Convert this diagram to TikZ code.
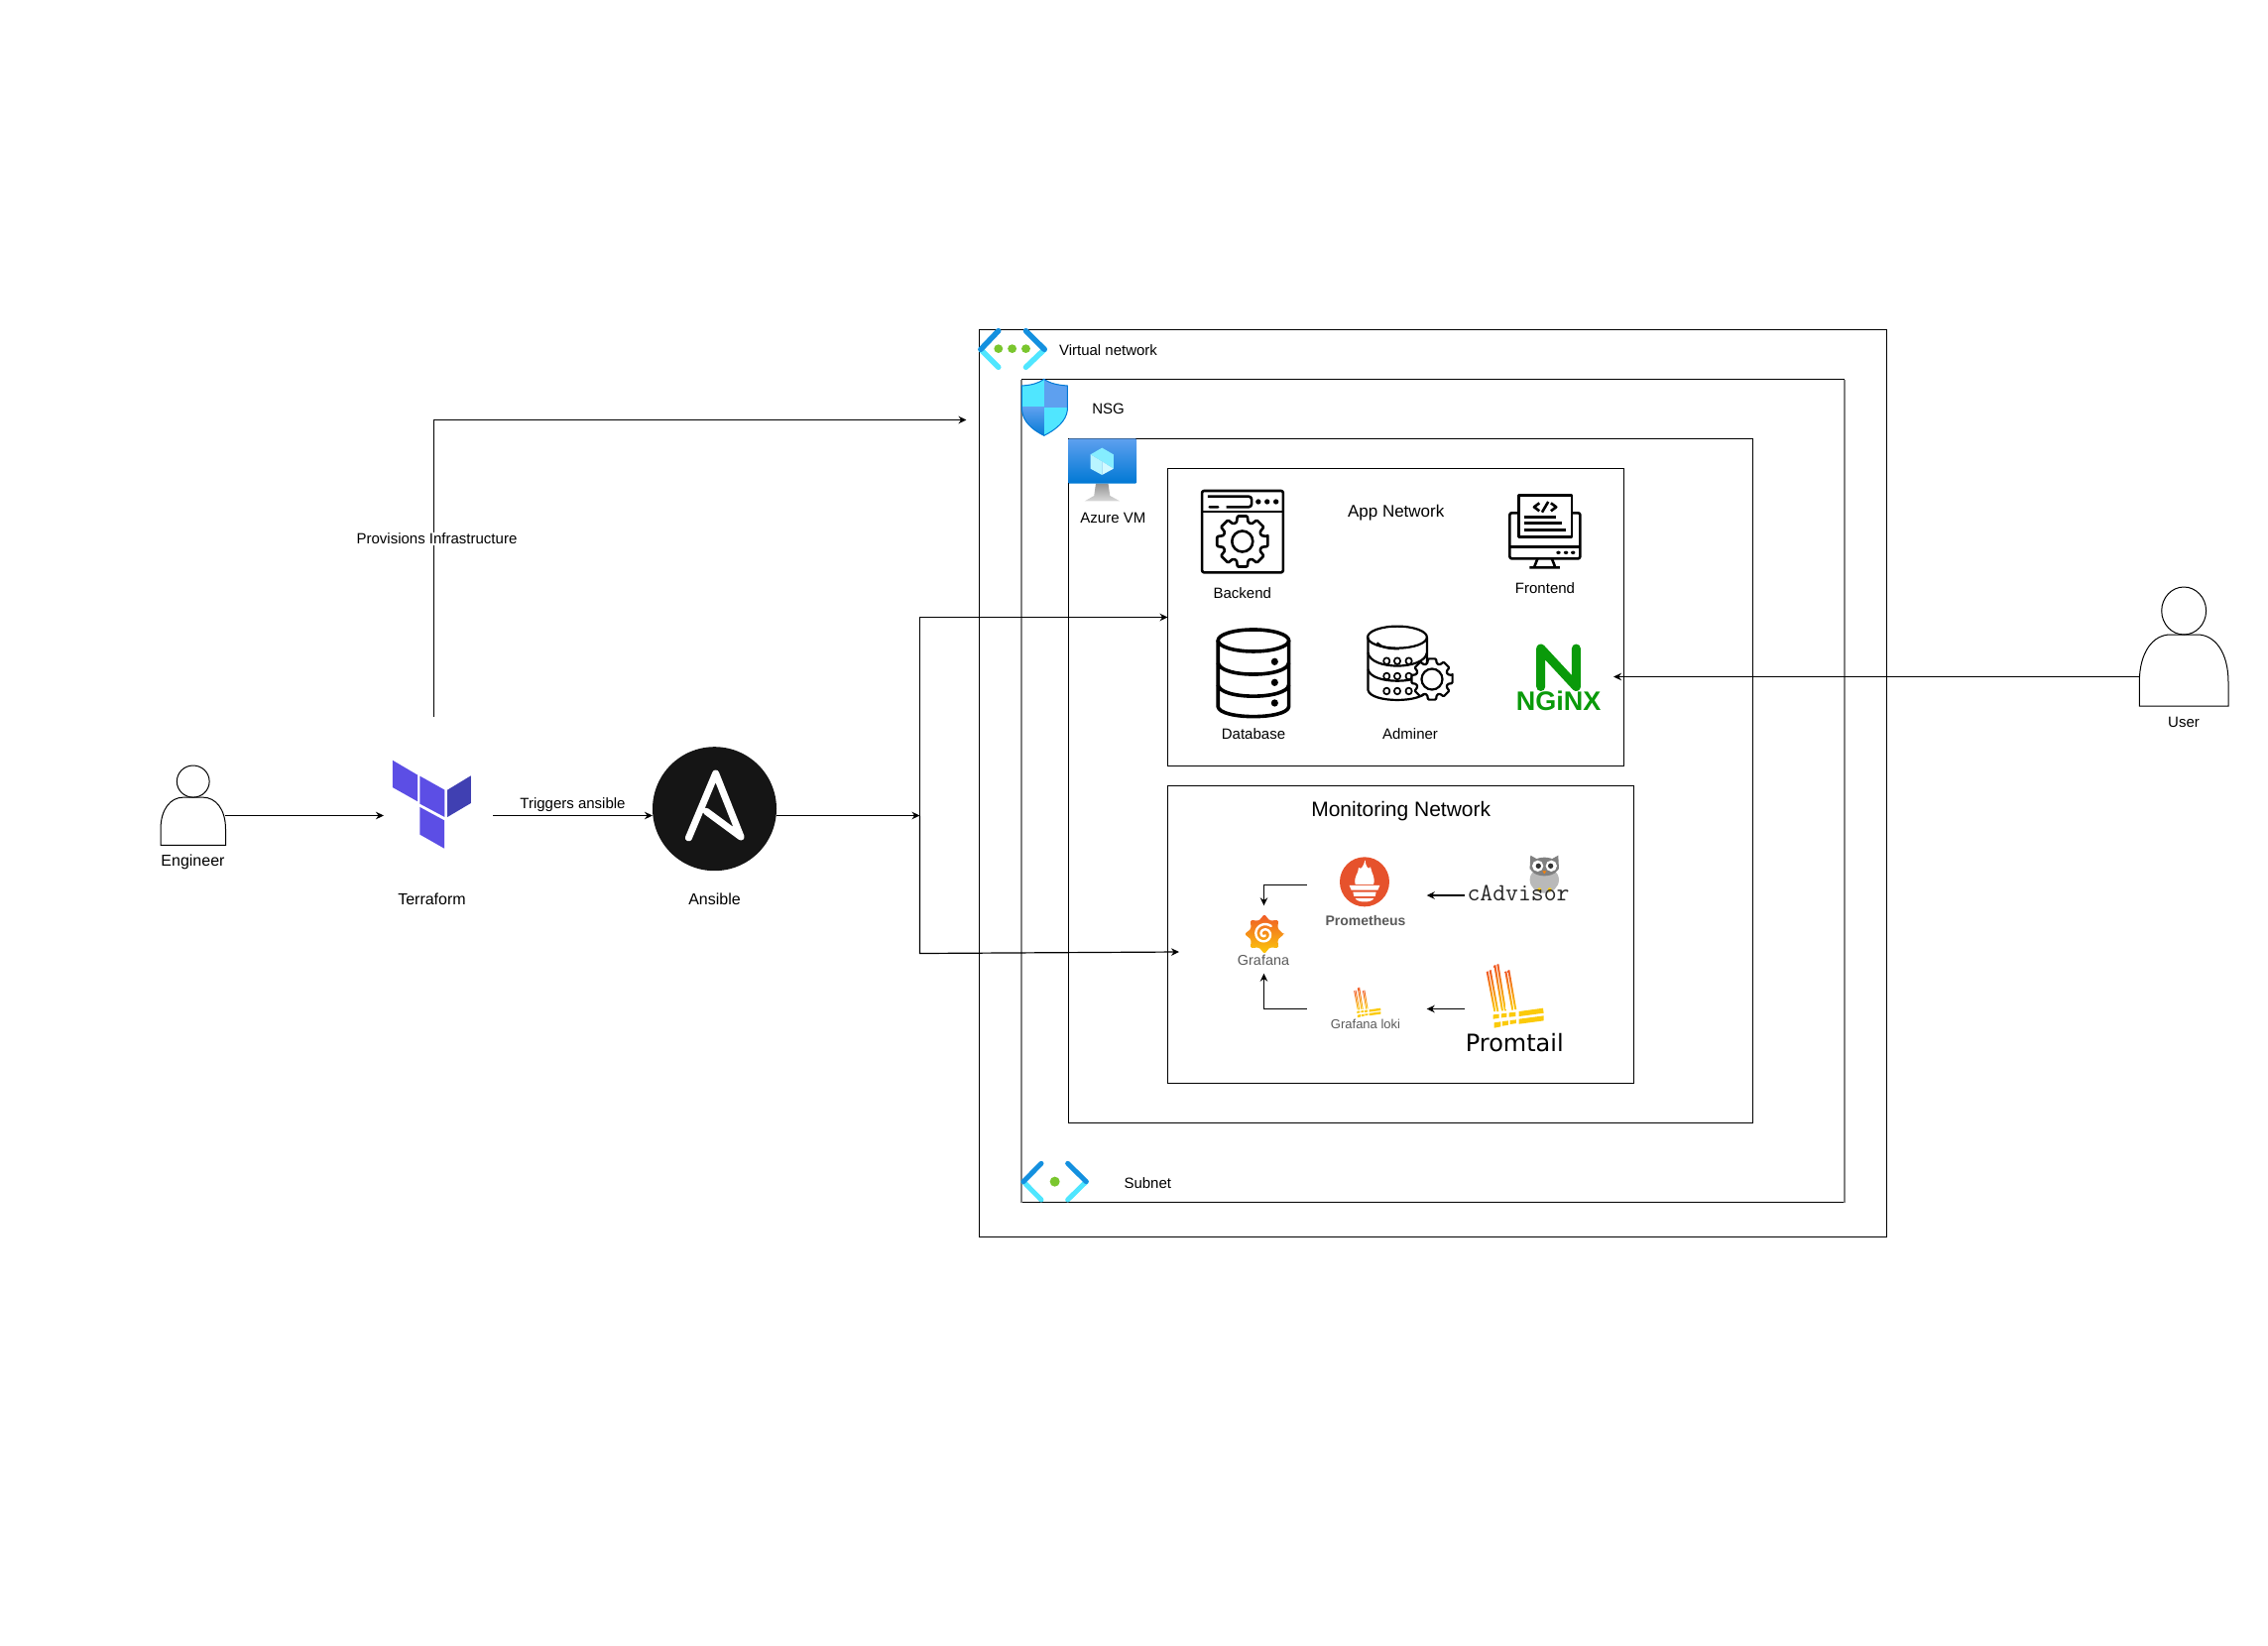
\documentclass[tikz,border=0pt]{standalone}
\usepackage{fontspec}
\setmainfont{Liberation Sans}
\newfontfamily\promfont{DejaVu Sans}
\usetikzlibrary{calc}
\usetikzlibrary{arrows.meta}
\definecolor{azdark}{HTML}{1490DF}
\definecolor{azcyan}{HTML}{50E6FF}
\definecolor{azblue}{HTML}{5EA0EF}
\definecolor{azdeep}{HTML}{0078D4}
\definecolor{azgreen}{HTML}{7AC62E}
\definecolor{tfpurple}{HTML}{5C4EE5}
\definecolor{tfdark}{HTML}{4040B2}
\definecolor{ansibleblack}{HTML}{151515}
\definecolor{nginxgreen}{HTML}{0A9A0A}
\definecolor{promorange}{HTML}{E6522C}
\definecolor{gforange}{HTML}{F05A28}
\definecolor{gfyellow}{HTML}{FBCA0A}
\definecolor{logogray}{HTML}{5A5A5A}
\tikzset{
  lbl/.style={font=\fontsize{15}{18}\selectfont,inner sep=0pt},
  biglbl/.style={font=\fontsize{16}{19}\selectfont,inner sep=0pt},
  netbox/.style={draw,line width=1.3pt,inner sep=0pt,outer sep=0pt},
  iconbox/.style={inner sep=0pt,outer sep=0pt},
  arr/.style={line width=1.2pt,-{Stealth[length=8pt,width=7.5pt]}},
  icon/.style={line width=2.6pt,line join=round},
  zoomone/.style={shift={(980,320)},x=0.4464pt,y=-0.3333pt},
  zoomtwo/.style={shift={(1170,780)},x=0.3333pt,y=-0.3333pt},
  zoomthree/.style={shift={(140,740)},x=0.4464pt,y=-0.3333pt}
}
% gear: centre x, centre y, outer r, inner r, path style
\newcommand{\gearicon}[5]{
  \coordinate (gc) at (#1,#2);
  \path[#5] ([shift={(-11:#3)}]gc) \foreach \a in {0,45,...,315} {
    -- ([shift={(\a-11:#3)}]gc) -- ([shift={(\a+11:#3)}]gc)
    -- ([shift={(\a+17:#4)}]gc) -- ([shift={(\a+28:#4)}]gc)} -- cycle;
}
% person: left, top, width, height
\newcommand{\personicon}[4]{
  \begin{scope}[shift={(#1,#2)},x=#3pt,y=-#4pt,line width=1pt]
    \draw (.5,.2) ellipse [x radius=.25,y radius=.2];
    \draw (0,1) -- (1,1) -- (1,.8) .. controls (1,.55) and (.85,.4) .. (.65,.4)
      -- (.35,.4) .. controls (.15,.4) and (0,.55) .. (0,.8) -- cycle;
  \end{scope}
}
% loki logo, local units are the big one's pixels
\newcommand{\lokilogo}{
  \foreach \xt/\yt/\xb/\yb in {1/22/24/142,10/18/33/142,24/3/47/140,33/0/56/140,57/22/78/138,66/18/87/136}
    \shade[top color=gforange,bottom color=gfyellow] (\xt,\yt) -- ($(\xt,\yt)+(6,-2)$) -- ($(\xb,\yb)+(6,0)$) -- (\xb,\yb) -- cycle;
  \fill[gfyellow] (100,142) -- (173,132) -- (175,147) -- (100,157) -- cycle;
  \fill[gfyellow] (100,165) -- (175,155) -- (175,170) -- (100,180) -- cycle;
  \fill[gfyellow] (22,152) -- (40,150) -- (40,162) -- (22,165) -- cycle;
  \fill[gfyellow] (47,149) -- (63,147) -- (63,159) -- (47,161) -- cycle;
  \fill[gfyellow] (70,146) -- (90,144) -- (90,157) -- (70,159) -- cycle;
  \fill[gfyellow] (25,176) -- (45,173) -- (45,188) -- (25,192) -- cycle;
  \fill[gfyellow] (50,172) -- (68,170) -- (68,183) -- (50,186) -- cycle;
  \fill[gfyellow] (73,169) -- (92,167) -- (92,178) -- (73,181) -- cycle;
}
\begin{document}
\begin{tikzpicture}[x=1pt,y=-1pt]
\useasboundingbox (0,0) rectangle (2287,1660);

% Network boxes
\node[netbox,minimum width=915pt,minimum height=915pt] (vnet) at (1445,790) {};
\node[iconbox,minimum width=830pt,minimum height=830pt] (subnet) at (1445,797.5) {};
\draw[line width=1.3pt] (subnet.north west) -- (subnet.north east);
\draw[line width=1.3pt] (subnet.south west) -- (subnet.south east);
\draw[line width=1.6pt,gray] (subnet.north west) -- (subnet.south west);
\draw[line width=1.6pt,gray] (subnet.north east) -- (subnet.south east);
\node[netbox,minimum width=690pt,minimum height=690pt] (vm) at (1422.5,787.5) {};
\node[netbox,minimum width=460pt,minimum height=300pt] (appnet) at (1407.5,622.5) {};
\node[netbox,minimum width=470pt,minimum height=300pt] (monitoring) at (1412.5,942.5) {};

% Titles
\node[lbl] (vnetlabel) at (1117.5,353.5) {Virtual network};
\node[lbl] (nsglabel) at (1117.5,412.5) {NSG};
\node[lbl] (vmlabel) at (1122.4,522.5) {Azure VM};
\node[lbl] (subnetlabel) at (1157.3,1193) {Subnet};
\node[lbl,font=\fontsize{17}{20}\selectfont] (applabel) at (1407.7,517.5) {App Network};
\node[lbl,font=\fontsize{21}{25}\selectfont] (monitorlabel) at (1412.7,818) {Monitoring Network};

% Azure icons
\begin{scope}[zoomone,line cap=round]
  \foreach \xa/\xb in {60/20,122/164} {
    \draw[line width=5.5pt,azcyan] (\xb,97) -- (\xa,151);
    \draw[line width=5.5pt,azdark] (\xa,41) -- (\xb,97);
  }
  \foreach \xd in {60,91,122}
    \fill[azgreen] (\xd,95) ellipse [x radius=10,y radius=13];
  % shield
  \begin{scope}
    \clip (113,207) .. controls (135,205) and (150,200) .. (163,187) .. controls (176,200) and (195,205) .. (216,207)
      -- (216,280) .. controls (213,315) and (190,340) .. (163,358) .. controls (136,340) and (115,315) .. (113,280) -- cycle;
    \fill[azcyan] (105,180) rectangle (163,272);
    \fill[azblue] (163,180) rectangle (225,272);
    \shade[top color=azblue,bottom color=azdeep] (105,272) rectangle (163,365);
    \fill[azcyan] (163,272) rectangle (225,365);
  \end{scope}
  \draw[line width=1pt,azdeep] (113,207) .. controls (135,205) and (150,200) .. (163,187) .. controls (176,200) and (195,205) .. (216,207)
    -- (216,280) .. controls (213,315) and (190,340) .. (163,358) .. controls (136,340) and (115,315) .. (113,280) -- cycle;
  % vm
  \shade[top color=gray!85,bottom color=gray!30] (280,503) -- (308,503) -- (312,540) -- (334,556) -- (255,556) -- (276,540) -- cycle;
  \shade[top color=azblue,bottom color=azdeep,rounded corners=1pt] (218,367) rectangle (372,503);
  \fill[azcyan!70] (294,395) -- (320,415) -- (320,458) -- (294,436) -- (268,415) -- cycle;
  \fill[azcyan!40] (268,415) -- (294,436) -- (294,477) -- (268,458) -- cycle;
  \fill[azcyan!25] (320,458) -- (294,436) -- (294,477) -- cycle;
\end{scope}

% App icons
\begin{scope}[zoomone,icon]
  % backend
  \draw[rounded corners=2pt] (520,525) rectangle (703,772);
  \draw (520,588) -- (703,588);
  \draw[rounded corners=3pt] (533,542) -- (632,542) -- (632,574) -- (575,574) (560,574) -- (533,574) -- cycle;
  \foreach \xd in {647,667,687}
    \fill (\xd,558) ellipse [x radius=6,y radius=8];
  % frontend
  \draw[rounded corners=2pt] (1235,592) -- (1215,592) -- (1215,730) -- (1374,730) -- (1374,592) -- (1355,592);
  \draw (1215,695) -- (1374,695);
  \draw (1235,538) rectangle (1355,665);
  \foreach \xd in {1325,1342,1358}
    \fill (\xd,712) ellipse [x radius=5,y radius=5];
  \draw (1278,730) -- (1270,757) (1310,730) -- (1318,757) (1260,757) -- (1328,757);
  \draw (1282,562) -- (1270,574) -- (1282,586) (1302,558) -- (1288,590) (1308,562) -- (1320,574) -- (1308,586);
  \draw (1247,604) -- (1320,604) (1247,623) -- (1332,623) (1247,643) -- (1342,643);
  % database
  \begin{scope}[line width=3.6pt]
    \draw (636,978) ellipse [x radius=80,y radius=33];
    \draw (556,978) -- (556,1178) .. controls (560,1218) and (712,1218) .. (716,1178) -- (716,978);
    \draw (556,1045) .. controls (560,1092) and (712,1092) .. (716,1045);
    \draw (556,1112) .. controls (560,1158) and (712,1158) .. (716,1112);
  \end{scope}
  \foreach \yd in {1042,1105,1167}
    \fill (684,\yd) ellipse [x radius=8,y radius=11];
  % adminer
  \begin{scope}[line width=2.2pt]
    \draw (961,968) ellipse [x radius=67,y radius=33];
    \draw (895,968) -- (895,1128) .. controls (900,1168) and (1022,1168) .. (1028,1128) -- (1028,968);
    \draw (895,1015) .. controls (900,1068) and (1022,1068) .. (1028,1015);
    \draw (895,1065) .. controls (900,1112) and (1022,1112) .. (1028,1065);
    \draw (915,985) .. controls (925,1000) and (945,1003) .. (965,1003);
    \foreach \yd in {1040,1086,1131}
      \foreach \xd in {937,961,987}
        \draw[line width=1.7pt] (\xd,\yd) ellipse [x radius=7,y radius=10];
  \end{scope}
\end{scope}
\gearicon{1252.8}{546}{26}{20}{draw,icon,rounded corners=1pt}
\draw[icon] (1252.8,546) circle [radius=10.5];
\gearicon{1444}{685}{21}{16.5}{draw,fill=white,line width=2.2pt,line join=round,rounded corners=1pt}
\draw[line width=2.2pt] (1444,685) circle [radius=10.5];
\node[lbl] (backendlabel) at (1252.8,598) {Backend};
\node[lbl] (frontendlabel) at (1558,593) {Frontend};
\node[lbl] (dblabel) at (1264,740) {Database};
\node[lbl] (adminerlabel) at (1422,740) {Adminer};

% Nginx
\draw[nginxgreen,line width=9pt,line cap=round,line join=round] (1553.7,692.5) -- (1553.7,654) -- (1589.4,692.5) -- (1589.4,654);
\node[lbl,nginxgreen,font=\fontsize{27}{30}\bfseries] (nginxlabel) at (1571.5,707) {NGiNX};
\node[iconbox,minimum width=100pt,minimum height=60pt] (nginx) at (1577,682.5) {};

% Monitoring icons
\begin{scope}[zoomtwo]
  % prometheus
  \fill[promorange] (618,328) circle [radius=75];
  \fill[white] (590,336) .. controls (584,310) and (600,305) .. (600,285) .. controls (608,292) and (612,285) .. (620,262)
    .. controls (622,285) and (630,292) .. (636,283) .. controls (640,305) and (652,315) .. (645,336) -- cycle;
  \fill[white] (572,339) -- (664,339) -- (658,353) -- (578,353) -- cycle;
  \fill[white] (583,359) -- (653,359) -- (650,372) -- (586,372) -- cycle;
  \fill[white] (590,378) -- (646,378) .. controls (640,392) and (596,392) .. (590,378) -- cycle;
  % cadvisor owl
  \fill[gray!55] (1162,322) ellipse [x radius=44,y radius=40];
  \fill[gray] (1120,248) -- (1138,258) -- (1186,258) -- (1204,248) -- (1206,290) -- (1118,290) -- cycle;
  \fill[gray] (1162,282) ellipse [x radius=44,y radius=28];
  \fill[white] (1142,280) circle [radius=17] (1183,280) circle [radius=17];
  \fill[black!80] (1144,280) circle [radius=8] (1181,280) circle [radius=8];
  \fill[orange] (1156,295) -- (1168,295) -- (1162,304) -- cycle;
  \fill[gfyellow] (1147,352) circle [radius=6] (1178,352) circle [radius=6];
\end{scope}
\node[lbl,font=\fontsize{25}{28}\ttfamily,text=black!85] (cadvisorlabel) at (1531,901) {cAdvisor};
\node[lbl,logogray,font=\fontsize{14}{17}\bfseries] (prometheuslabel) at (1377,928.5) {Prometheus};

% Grafana
\coordinate (gfc) at (1275,942);
\path[top color=gforange,bottom color=gfyellow,rounded corners=1.5pt] ([shift={(0:19)}]gfc)
  \foreach \a in {0,45,...,315} {-- ([shift={(\a:20)}]gfc) -- ([shift={(\a+22:14.5)}]gfc)} -- cycle;
\draw[white,line width=2.4pt,line cap=round] plot[domain=0:610,samples=70,smooth]
  ({1275+(1.5+9*\x/610)*cos(\x+60)},{942+(1.5+9*\x/610)*sin(\x+60)});
\node[lbl,logogray,font=\fontsize{14.4}{17}\selectfont] (grafanalabel) at (1274,968.5) {Grafana};

% Loki and Promtail
\begin{scope}[shift={(1365,996)},x=0.1567pt,y=-0.1567pt]
  \lokilogo
\end{scope}
\node[lbl,logogray,font=\fontsize{13}{16}\selectfont] (lokilabel) at (1377,1033) {Grafana loki};
\begin{scope}[shift={(1498.3,972.7)},x=0.3333pt,y=-0.3333pt]
  \lokilogo
\end{scope}
\node[lbl,font=\fontsize{24}{28}\promfont] (promtaillabel) at (1527.3,1051.7) {Promtail};

% Tool boxes for the monitoring arrows
\node[iconbox,minimum width=121pt,minimum height=21pt] (prometheus) at (1378.2,903) {};
\node[iconbox,minimum width=121pt,minimum height=20pt] (loki) at (1378.2,1017.5) {};
\node[iconbox,minimum width=60pt,minimum height=68.4pt] (grafana) at (1274.5,947.5) {};
\node[iconbox,minimum width=100pt,minimum height=30pt] (cadvisor) at (1527.3,903) {};
\node[iconbox,minimum width=100pt,minimum height=30pt] (promtail) at (1527.3,1017.5) {};

% Left side tools
\personicon{162}{772}{65.5}{80.3}
\node[iconbox,minimum width=65.5pt,minimum height=60pt] (engineer) at (194.7,822.5) {};
\node[biglbl] (engineerlabel) at (194.5,869) {Engineer};
\begin{scope}[zoomthree]
  \fill[tfpurple] (573,80) -- (630,125) -- (630,205) -- (573,162) -- cycle;
  \fill[tfpurple] (635,128) -- (691,170) -- (691,252) -- (635,212) -- cycle;
  \fill[tfdark] (697,170) -- (750,127) -- (750,210) -- (697,252) -- cycle;
  \fill[tfpurple] (635,222) -- (690,262) -- (690,347) -- (635,305) -- cycle;
\end{scope}
\node[iconbox,minimum width=110pt,minimum height=100pt] (terraform) at (442,822.5) {};
\coordinate (tftop) at (437.5,723.4);
\node[biglbl] (terraformlabel) at (435.5,906.5) {Terraform};
\fill[ansibleblack] (720.5,815.7) circle [radius=62.5];
\begin{scope}[zoomthree]
  \draw[white,line width=7pt,line join=round,line cap=round] (1242,315) -- (1303,120) -- (1360,312) -- (1282,235);
\end{scope}
\node[iconbox,minimum width=125pt,minimum height=60pt] (ansible) at (720.5,822.5) {};
\node[biglbl] (ansiblelabel) at (720.5,906.5) {Ansible};

% User
\personicon{2157.3}{592}{89.7}{120}
\node[iconbox,minimum width=89.7pt,minimum height=60pt] (user) at (2202.2,682.5) {};
\node[lbl] (userlabel) at (2202,728.5) {User};

% Connectors
\coordinate (bus) at (927.5,822.5);
\coordinate (busdown) at (927.5,961.5);
\coordinate (monitorin) at (1189,960);
\coordinate (vnetin) at (974.5,423.5);
\draw[arr] (engineer.east) -- (terraform.west);
\draw[arr] (terraform.east) -- (ansible.west);
\draw[arr] (tftop) |- (vnetin);
\draw[arr] (ansible.east) -- (bus);
\draw[arr] (bus) |- (appnet.west);
\draw[arr] (bus) -- (busdown) -- (monitorin);
\draw[arr] (user.west) -- (nginx.east);
\draw[arr] (prometheus.north west) -| (grafana.north);
\draw[arr] (loki.west) -| (grafana.south);
\draw[arr] (cadvisor.west) -- (prometheus.east);
\draw[arr] (promtail.west) -- (loki.east);

% Connector labels
\node[lbl] (triggerslabel) at (577.5,811.5) {Triggers ansible};
\node[lbl,fill=white,inner sep=1pt] (provisionslabel) at (440.5,543) {Provisions Infrastructure};

% Subnet icon
\begin{scope}[shift={(980,1130)},x=0.3333pt,y=-0.3333pt,line cap=round]
  \foreach \xa/\xb in {210/156,290/346} {
    \draw[line width=5pt,azcyan] (\xb,185) -- (\xa,240);
    \draw[line width=5pt,azdark] (\xa,130) -- (\xb,185);
  }
  \fill[azgreen] (251,185) circle [radius=15];
\end{scope}
\end{tikzpicture}
\end{document}
